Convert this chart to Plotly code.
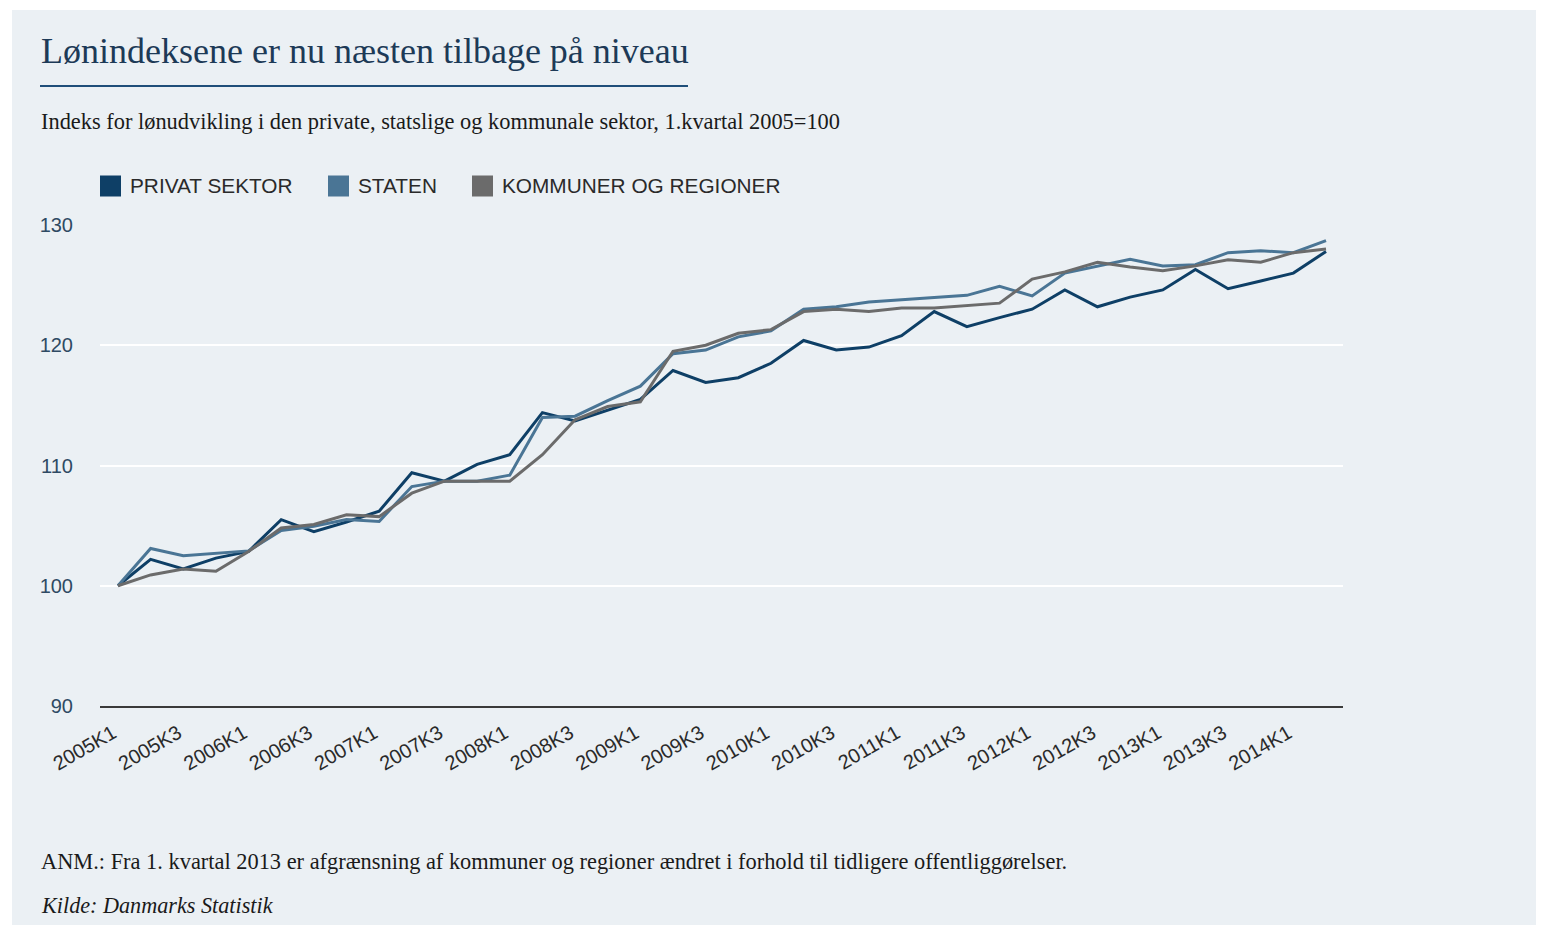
import plotly.graph_objects as go

quarters = [f"{y}K{q}" for y in range(2005, 2015) for q in range(1, 5)][:38]

privat = [100.0, 102.2, 101.4, 102.3, 102.85, 105.5, 104.5, 105.3, 106.2, 109.4,
          108.7, 110.1, 110.9, 114.4, 113.7, 114.6, 115.5, 117.9, 116.9, 117.3,
          118.5, 120.4, 119.6, 119.85, 120.8, 122.8, 121.55, 122.3, 123.0, 124.6,
          123.2, 124.0, 124.6, 126.3, 124.7, 125.35, 126.0, 127.8]
staten = [100.0, 103.1, 102.5, 102.7, 102.9, 104.6, 104.95, 105.5, 105.35, 108.25,
          108.7, 108.7, 109.2, 114.0, 114.1, 115.4, 116.6, 119.3, 119.6, 120.7,
          121.2, 123.0, 123.2, 123.6, 123.8, 124.0, 124.15, 124.9, 124.1, 126.0,
          126.6, 127.15, 126.6, 126.7, 127.7, 127.85, 127.7, 128.7]
kommuner = [100.0, 100.9, 101.4, 101.2, 102.85, 104.8, 105.1, 105.9, 105.75, 107.7,
            108.7, 108.7, 108.7, 110.9, 113.8, 114.9, 115.3, 119.5, 120.0, 121.0,
            121.3, 122.8, 123.0, 122.8, 123.1, 123.1, 123.3, 123.5, 125.5, 126.1,
            126.9, 126.5, 126.2, 126.6, 127.1, 126.9, 127.7, 128.0]

series_names = ["PRIVAT SEKTOR", "STATEN", "KOMMUNER OG REGIONER"]
series_colors = ["#0e3f66", "#4a7595", "#6b6b6b"]
series_values = [privat, staten, kommuner]

tick_labels = quarters[::2][:19]

title_text = "Lønindeksene er nu næsten tilbage på niveau"
subtitle_text = "Indeks for lønudvikling i den private, statslige og kommunale sektor, 1.kvartal 2005=100"
note_text = "ANM.: Fra 1. kvartal 2013 er afgrænsning af kommuner og regioner ændret i forhold til tidligere offentliggørelser."
source_text = "<i>Kilde: Danmarks Statistik</i>"

# page body has an 8px margin; work in reference pixels and shift
OFF = 8
W, H = 1544 - OFF, 927 - OFF
L, R, T, B = 100 - OFF, 1343 - OFF, 225 - OFF, 706 - OFF


def px(x):
    return (x - OFF - L) / (R - L)


def py(y):
    return (B - (y - OFF)) / (B - T)


fig = go.Figure()
for name, color, vals in zip(series_names, series_colors, series_values):
    fig.add_trace(go.Scatter(x=quarters, y=vals, mode="lines", name=name,
                             line=dict(color=color, width=3), showlegend=False))

bg = "#ebf0f4"
serif = "Liberation Serif, Times New Roman, serif"

shapes = [
    dict(type="rect", xref="paper", yref="paper", x0=px(12), x1=px(1560),
         y0=py(925), y1=py(10), fillcolor=bg, line=dict(width=0), layer="below"),
    dict(type="line", xref="paper", yref="paper", x0=px(40), x1=px(688),
         y0=py(86), y1=py(86), line=dict(color="#1f4e79", width=2)),
]
annotations = [
    dict(text=title_text, xref="paper", yref="paper", x=px(39), y=py(51),
         xanchor="left", yanchor="middle", showarrow=False,
         font=dict(family=serif, size=36, color="#1d3a57")),
    dict(text=subtitle_text, xref="paper", yref="paper", x=px(39), y=py(121),
         xanchor="left", yanchor="middle", showarrow=False,
         font=dict(family=serif, size=22.4, color="#1a1a1a")),
    dict(text=note_text, xref="paper", yref="paper", x=px(39), y=py(861),
         xanchor="left", yanchor="middle", showarrow=False,
         font=dict(family=serif, size=22.4, color="#1a1a1a")),
    dict(text=source_text, xref="paper", yref="paper", x=px(39), y=py(905),
         xanchor="left", yanchor="middle", showarrow=False,
         font=dict(family=serif, size=22.2, color="#1a1a1a")),
]

# legend: colored squares + labels
legend_x = [100, 328, 472]
for name, color, lx in zip(series_names, series_colors, legend_x):
    shapes.append(dict(type="rect", xref="paper", yref="paper", x0=px(lx), x1=px(lx + 21),
                       y0=py(196.5), y1=py(175.5), fillcolor=color, line=dict(width=0)))
    annotations.append(dict(text=name, xref="paper", yref="paper", x=px(lx + 28), y=py(186),
                            xanchor="left", yanchor="middle", showarrow=False,
                            font=dict(size=20.8, color="#2a2a2a")))

fig.update_layout(
    width=W, height=H,
    margin=dict(l=L, r=W - R, t=T, b=H - B, autoexpand=False),
    paper_bgcolor="white",
    plot_bgcolor=bg,
    showlegend=False,
    font=dict(family="Liberation Sans, Arial, sans-serif", color="#333333", size=20),
    xaxis=dict(type="category", categoryorder="array", categoryarray=quarters,
               range=[-0.55, 37.52], tickmode="array", tickvals=tick_labels,
               ticktext=tick_labels, tickangle=-30, showgrid=False,
               showline=True, linecolor="#3a3a3a", linewidth=1.5,
               ticks="outside", ticklen=6, tickcolor="rgba(0,0,0,0)",
               ticklabelshift=-5,
               tickfont=dict(size=20, color="#2a2a2a")),
    yaxis=dict(range=[90, 130], tickvals=[90, 100, 110, 120, 130], showgrid=True,
               gridcolor="white", gridwidth=2, zeroline=False, showline=False,
               ticks="outside", ticklen=22, tickcolor="rgba(0,0,0,0)",
               tickfont=dict(size=20, color="#2f4a63")),
    shapes=shapes,
    annotations=annotations,
)

fig.write_html("out.html")
